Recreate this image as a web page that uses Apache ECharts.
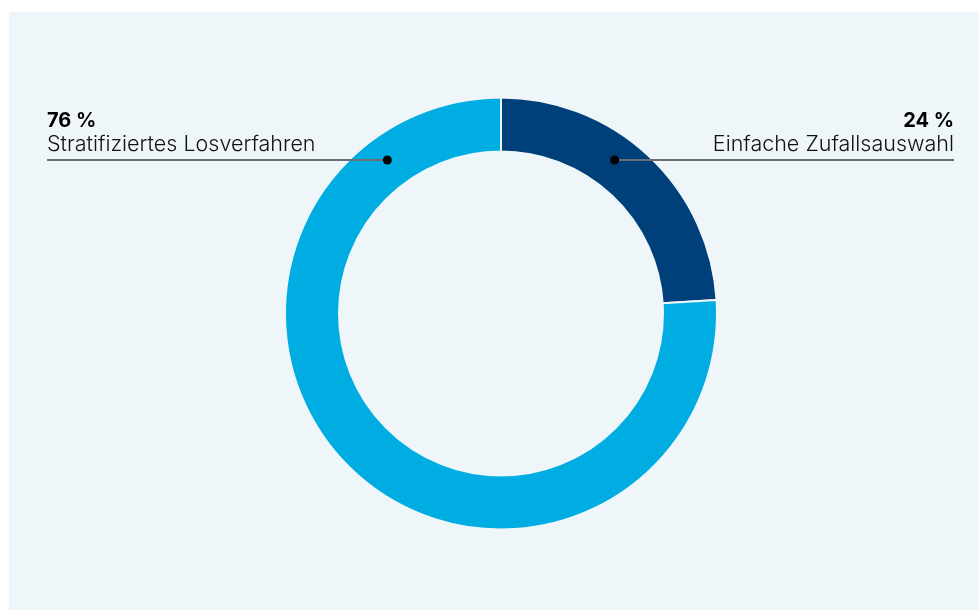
<!DOCTYPE html>
<html>
<head>
<meta charset="utf-8">
<script src="https://cdn.jsdelivr.net/npm/echarts@6/dist/echarts.min.js"></script>
<style>
  html, body { margin: 0; padding: 0; background: #ffffff; }
  #chart_con { position: absolute; left: 9px; top: 12px; width: 970px; height: 598px; background: #eef6fa; }
</style>
</head>
<body>
<div id="chart_con"></div>
<script>
  const categories = ['Einfache Zufallsauswahl', 'Stratifiziertes Losverfahren'];
  const shares = [24, 76];
  const colors = ['#00407a', '#00ade3'];

  const chart = echarts.init(document.getElementById('chart_con'));

  // Ring geometry (container coordinates)
  const cx = 492, cy = 301.5;
  const rIn = 162, rOut = 216;
  const rMid = (rIn + rOut) / 2 + 2;
  const lineY = 148;              // y of the callout lines
  const dy = lineY - cy;
  const dx = Math.sqrt(rMid * rMid - dy * dy);
  const leftX = 38, rightX = 945;
  const font = 'Inter, "Open Sans", sans-serif';

  const callout = function (i, side) {
    const dotX = side === 'right' ? cx + dx : cx - dx;
    const edgeX = side === 'right' ? rightX : leftX;
    const align = side === 'right' ? 'right' : 'left';
    return [
      { type: 'line', shape: { x1: dotX, y1: lineY, x2: edgeX, y2: lineY },
        style: { stroke: '#6b7076', lineWidth: 2 }, z: 10 },
      { type: 'circle', shape: { cx: dotX, cy: lineY, r: 4.5 },
        style: { fill: '#000000' }, z: 11 },
      { type: 'text', x: edgeX, y: 119, z: 10,
        style: { text: shares[i] + ' %', font: 'bold 20px ' + font, fill: '#000000',
                 align: align, verticalAlign: 'bottom' } },
      { type: 'text', x: edgeX, y: 143.5, z: 10,
        style: { text: categories[i], font: '300 21.5px ' + font, fill: '#111111',
                 align: align, verticalAlign: 'bottom' } }
    ];
  };

  const option = {
    animation: false,
    series: [
      {
        type: 'pie',
        center: [cx, cy],
        radius: [rIn, rOut],
        startAngle: 90,
        clockwise: true,
        silent: true,
        label: { show: false },
        labelLine: { show: false },
        itemStyle: { borderColor: '#eef6fa', borderWidth: 2 },
        data: categories.map(function (c, i) {
          return { name: c, value: shares[i], itemStyle: { color: colors[i] } };
        })
      }
    ],
    graphic: callout(0, 'right').concat(callout(1, 'left'))
  };

  chart.setOption(option);

  window.addEventListener('resize', function () {
    chart.resize();
  });
</script>
</body>
</html>
